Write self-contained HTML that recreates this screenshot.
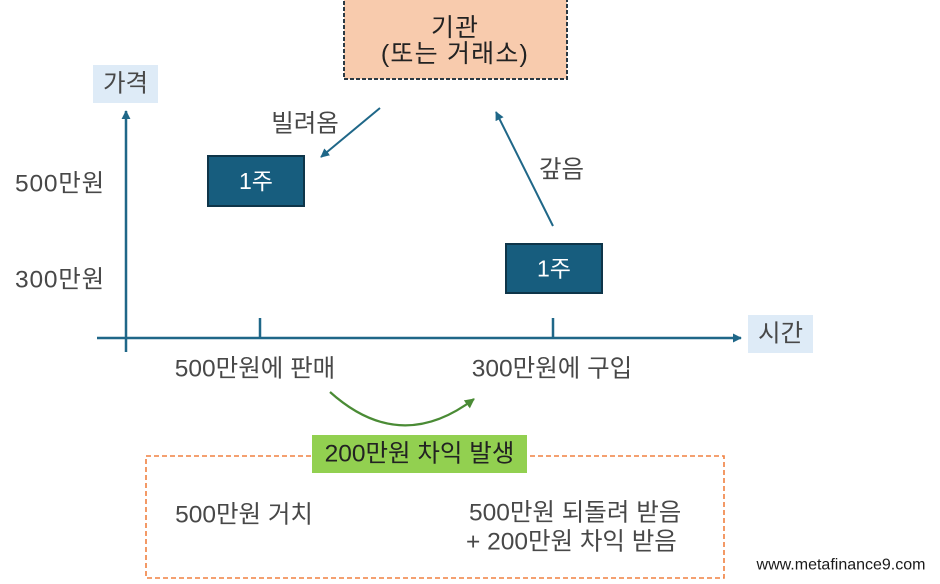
<!DOCTYPE html>
<html>
<head>
<meta charset="utf-8">
<style>
  html, body { margin: 0; padding: 0; background: #ffffff; }
  body { width: 940px; height: 584px; overflow: hidden; }
  svg { display: block; }
  text { font-family: "Liberation Sans", "Noto Sans CJK KR", sans-serif; }
</style>
</head>
<body>
<svg width="940" height="584" viewBox="0 0 940 584" xmlns="http://www.w3.org/2000/svg">
  <defs>
    <marker id="ab" viewBox="0 0 10 10" refX="9" refY="5" markerWidth="9" markerHeight="9" markerUnits="userSpaceOnUse" orient="auto">
      <path d="M0,0 L10,5 L0,10 z" fill="#1f6788"/>
    </marker>
    <marker id="ag" viewBox="0 0 10 10" refX="9" refY="5" markerWidth="10" markerHeight="10" markerUnits="userSpaceOnUse" orient="auto">
      <path d="M0,0 L10,5 L0,10 z" fill="#4a8b35"/>
    </marker>
  </defs>

  <!-- Top box -->
  <rect x="344" y="-1" width="223" height="80" fill="#f8cbad" stroke="#2b3a44" stroke-width="2" stroke-dasharray="4,2"/>
  <text x="455" y="28" font-size="25" letter-spacing="1" fill="#222" text-anchor="middle" dominant-baseline="central">기관</text>
  <text x="455" y="54" font-size="25" letter-spacing="1.2" fill="#222" text-anchor="middle" dominant-baseline="central">(또는 거래소)</text>

  <!-- 가격 label -->
  <rect x="93" y="65" width="65" height="38" fill="#deebf7"/>
  <text x="125.5" y="84" font-size="24.5" fill="#484848" text-anchor="middle" dominant-baseline="central">가격</text>

  <!-- 시간 label -->
  <rect x="748" y="315" width="65" height="38" fill="#deebf7"/>
  <text x="780.5" y="334" font-size="24.5" fill="#484848" text-anchor="middle" dominant-baseline="central">시간</text>

  <!-- Axes -->
  <line x1="126" y1="352" x2="126" y2="111" stroke="#1f6788" stroke-width="2.5" marker-end="url(#ab)"/>
  <line x1="97" y1="338" x2="741" y2="338" stroke="#1f6788" stroke-width="2.5" marker-end="url(#ab)"/>
  <line x1="260" y1="318" x2="260" y2="338" stroke="#1f6788" stroke-width="2.5"/>
  <line x1="553" y1="318" x2="553" y2="338" stroke="#1f6788" stroke-width="2.5"/>

  <!-- Y labels -->
  <text x="60" y="184" font-size="24.5" letter-spacing="0.8" fill="#484848" text-anchor="middle" dominant-baseline="central">500만원</text>
  <text x="60" y="280" font-size="24.5" letter-spacing="0.8" fill="#484848" text-anchor="middle" dominant-baseline="central">300만원</text>

  <!-- 1주 boxes -->
  <rect x="208" y="156" width="96" height="50" fill="#175d7e" stroke="#0e3549" stroke-width="2"/>
  <text x="256" y="181" font-size="23" fill="#ffffff" text-anchor="middle" dominant-baseline="central">1주</text>
  <rect x="506" y="244" width="96" height="49" fill="#175d7e" stroke="#0e3549" stroke-width="2"/>
  <text x="554" y="268.5" font-size="23" fill="#ffffff" text-anchor="middle" dominant-baseline="central">1주</text>

  <!-- 빌려옴 arrow -->
  <line x1="380" y1="108" x2="321" y2="157" stroke="#1f6788" stroke-width="2" marker-end="url(#ab)"/>
  <text x="305" y="124" font-size="24.5" fill="#484848" text-anchor="middle" dominant-baseline="central">빌려옴</text>

  <!-- 갚음 arrow -->
  <line x1="553" y1="226" x2="496" y2="112" stroke="#1f6788" stroke-width="2" marker-end="url(#ab)"/>
  <text x="561.5" y="170" font-size="24.5" fill="#484848" text-anchor="middle" dominant-baseline="central">갚음</text>

  <!-- X labels -->
  <text x="255" y="369" font-size="24.5" fill="#484848" text-anchor="middle" dominant-baseline="central">500만원에 판매</text>
  <text x="552" y="369" font-size="24.5" fill="#484848" text-anchor="middle" dominant-baseline="central">300만원에 구입</text>

  <!-- Green curve -->
  <path d="M330,392 Q400,455 474,399" fill="none" stroke="#4a8b35" stroke-width="2.2" marker-end="url(#ag)"/>

  <!-- Orange dashed box -->
  <rect x="146" y="456" width="578" height="122" fill="none" stroke="#f08040" stroke-width="1.6" stroke-dasharray="5,3"/>

  <!-- Green label -->
  <rect x="312" y="435" width="215" height="38" fill="#92d050"/>
  <text x="419.5" y="454" font-size="24.5" fill="#222" text-anchor="middle" dominant-baseline="central">200만원 차익 발생</text>

  <!-- Box texts -->
  <text x="244" y="515" font-size="24.5" fill="#484848" text-anchor="middle" dominant-baseline="central">500만원 거치</text>
  <text x="469" y="513" font-size="24.5" fill="#484848" dominant-baseline="central">500만원 되돌려 받음</text>
  <text x="466" y="542" font-size="24.5" fill="#484848" dominant-baseline="central">+ 200만원 차익 받음</text>

  <!-- Watermark -->
  <text x="841" y="565" font-size="16" fill="#1a1a1a" text-anchor="middle" dominant-baseline="central">www.metafinance9.com</text>
</svg>
</body>
</html>
